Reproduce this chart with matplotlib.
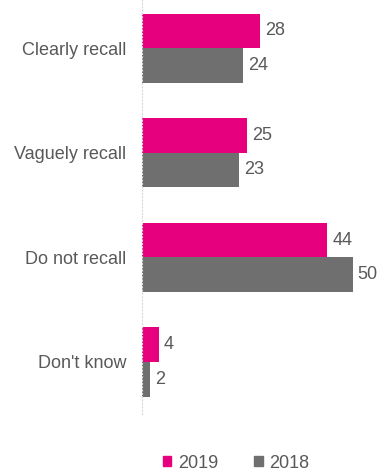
import numpy as np
import matplotlib.pyplot as plt
from matplotlib.patches import Patch

plt.rcParams['font.family'] = ['Liberation Sans', 'DejaVu Sans']

categories = ['Clearly recall', 'Vaguely recall', 'Do not recall', "Don't know"]
values_2019 = [28, 25, 44, 4]
values_2018 = [24, 23, 50, 2]
series_names = ['2019', '2018']

PINK = '#e6007e'
GREY = '#6f6f6f'
TEXT = '#595959'

fig = plt.figure(figsize=(3.78, 4.74), dpi=100)
ax = fig.add_axes([142 / 378, 60 / 474, 231.6 / 378, 414 / 474])

y = np.arange(len(categories))
h = 0.33

bars19 = ax.barh(y - h / 2, values_2019, height=h, color=PINK)
bars18 = ax.barh(y + h / 2, values_2018, height=h, color=GREY)

# value labels just right of each bar
for bars, vals in ((bars19, values_2019), (bars18, values_2018)):
    for b, v in zip(bars, vals):
        ax.text(v + 1.2, b.get_y() + b.get_height() / 2, str(v),
                va='center', ha='left', fontsize=13, color=TEXT)

ax.set_xlim(0, 55)
ax.set_ylim(3.497, -0.459)
ax.set_yticks(y)
ax.set_yticklabels(categories, fontsize=13, color=TEXT)
ax.tick_params(axis='y', length=0, pad=11.5)
ax.set_xticks([])

for s in ['top', 'right', 'bottom']:
    ax.spines[s].set_visible(False)
ax.spines['left'].set_color('#d9d9d9')
ax.spines['left'].set_linestyle((0, (1, 2)))
ax.spines['left'].set_linewidth(0.8)

handles = [Patch(color=PINK), Patch(color=GREY)]
fig.legend(handles, series_names, loc='center', bbox_to_anchor=(236 / 378, 1 - 463 / 474),
           ncol=2, frameon=False, fontsize=13, labelcolor=TEXT,
           handlelength=0.48, handleheight=0.48, handletextpad=0.35, columnspacing=2.0)

fig.savefig('out.png', dpi=100)
